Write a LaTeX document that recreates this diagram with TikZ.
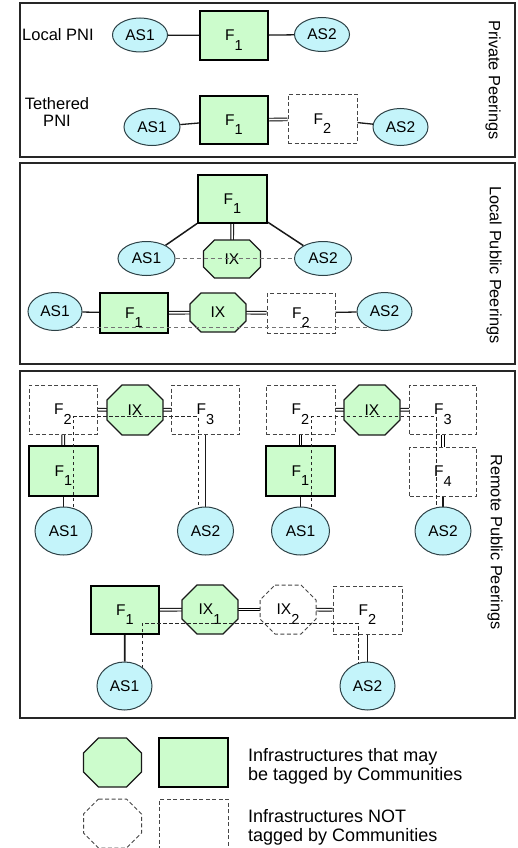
\documentclass[tikz,border=0pt]{standalone}
\usepackage{fontspec}
\setmainfont{Liberation Sans}
\usetikzlibrary{shapes.geometric}
\pgfdeclarelayer{bg}\pgfdeclarelayer{mid}\pgfdeclarelayer{fg}
\pgfsetlayers{bg,mid,main,fg}
\definecolor{boxgreen}{RGB}{204,252,204}
\definecolor{ascyan}{RGB}{196,244,250}
\definecolor{asline}{RGB}{45,65,70}
\definecolor{dashgray}{RGB}{70,70,70}
\newcommand\lowsub[1]{\raisebox{-0.6em}[0pt][0pt]{\fontsize{14.5}{15}\selectfont #1}}
\newcommand\drawocta[3]{%
  \begin{pgfonlayer}{mid}
  \path[#3] ([xshift=#2]#1.north west) -- ([xshift=-#2]#1.north east) -- ([yshift=-#2]#1.north east) -- ([yshift=#2]#1.south east) -- ([xshift=-#2]#1.south east) -- ([xshift=#2]#1.south west) -- ([yshift=#2]#1.south west) -- ([yshift=-#2]#1.north west) -- cycle;
  \end{pgfonlayer}}
\tikzset{
 lbl/.style={font=\fontsize{15.5}{16}\selectfont},
 grbox/.style={rectangle, draw=black, line width=1.3pt, fill=boxgreen, minimum width=68pt, minimum height=48pt, inner sep=0pt, lbl},
 dbox/.style={rectangle, draw=dashgray, line width=1pt, dash pattern=on 4pt off 2.5pt, fill=white, minimum width=68pt, minimum height=48pt, inner sep=0pt, lbl},
 asnode/.style={ellipse, draw=asline, line width=1pt, fill=ascyan, minimum width=56pt, minimum height=36pt, inner sep=0pt, lbl},
 octnode/.style={rectangle, inner sep=0pt, outer sep=0pt, minimum width=56pt, minimum height=50pt, lbl},
 grocta/.style={draw=black!90, line width=1.3pt, fill=boxgreen},
 docta/.style={draw=dashgray, line width=1pt, dash pattern=on 4pt off 2.5pt, fill=white},
 link/.style={draw=black!90, line width=1.3pt},
 thicklink/.style={draw=black!90, line width=1.8pt},
 dlink/.style={draw=black, line width=0.9pt, double=white, double distance=1.8pt},
 gdash/.style={draw=black!55, line width=1pt, dash pattern=on 4pt off 3pt},
 kdash/.style={draw=black!85, line width=0.9pt, dash pattern=on 3.5pt off 2.5pt},
 panel/.style={draw=black!85, line width=1.2pt},
 side/.style={rotate=-90, inner sep=0pt, font=\fontsize{16.3}{17}\selectfont},
 rowlbl/.style={font=\fontsize{16.5}{17.5}\selectfont, align=center, inner sep=0pt},
 legtext/.style={font=\fontsize{18}{19.5}\selectfont, align=left, anchor=west, inner sep=0pt},
}
\begin{document}
\begin{tikzpicture}[x=1pt,y=-1pt]
\useasboundingbox (0,0) rectangle (518,848);
% panels
\draw[panel] (20,3) rectangle (515,157);
\draw[panel] (20,163) rectangle (515,364);
\draw[panel] (20,371) rectangle (515,718);

% ---------- Panel 1
\node[rowlbl, anchor=west] (lpni) at (22,35) {Local PNI};
\node[grbox, minimum height=49pt] (p1f1) at (234,35.5) {F\lowsub{1}};
\node[rowlbl] (tpni) at (57,112) {Tethered\\PNI};
\node[grbox] (p1g1) at (234,120) {F\lowsub{1}};
\node[dbox, minimum width=69pt, minimum height=49pt] (p1g2) at (322.5,119) {F\lowsub{2}};
\node[side] (lab1) at (493,80) {Private Peerings};

% ---------- Panel 2
\node[grbox, line width=2pt, minimum width=69pt] (p2f) at (232.5,199) {F\lowsub{1}};
\node[octnode, minimum width=57pt, minimum height=38pt] (p2ix) at (232,259) {IX};
\drawocta{p2ix}{11pt}{grocta}
\node[grbox, minimum height=40pt] (p2g1) at (134,313) {F\lowsub{1}};
\node[octnode, minimum height=39pt] (p2ix2) at (218,312.5) {IX};
\drawocta{p2ix2}{11pt}{grocta}
\node[dbox, minimum height=40pt] (p2g2) at (301,313) {F\lowsub{2}};
\node[side] (lab2) at (494,265) {Local Public Peerings};

% ---------- Panel 3, left group
\node[dbox, minimum height=49pt] (q2) at (63,409.5) {F\lowsub{2}};
\node[octnode] (qix) at (135,410) {IX};
\drawocta{qix}{15pt}{grocta}
\node[dbox, minimum height=49pt] (q3) at (205.5,409.5) {F\lowsub{3}};
\node[grbox, minimum width=69pt, minimum height=50pt] (q1) at (63.5,471) {F\lowsub{1}};
% right group
\node[dbox, minimum width=69pt, minimum height=49pt] (r2) at (300.5,409.5) {F\lowsub{2}};
\node[octnode] (rix) at (372,410) {IX};
\drawocta{rix}{15pt}{grocta}
\node[dbox, minimum width=67pt, minimum height=49pt] (r3) at (443,409.5) {F\lowsub{3}};
\node[grbox, minimum width=69pt, minimum height=50pt] (r1) at (300.5,471) {F\lowsub{1}};
\node[dbox, minimum width=67pt, minimum height=49pt] (r4) at (443,471.5) {F\lowsub{4}};
% bottom group
\node[grbox] (s1) at (125,610) {F\lowsub{1}};
\node[octnode, minimum height=49pt] (six1) at (210,609.5) {IX\lowsub{1}};
\drawocta{six1}{15pt}{grocta}
\node[octnode, minimum height=49pt] (six2) at (288,609.5) {IX\lowsub{2}};
\drawocta{six2}{15pt}{docta}
\node[dbox, minimum width=69pt] (s2) at (367.5,610) {F\lowsub{2}};
\node[side] (lab3) at (495,542) {Remote Public Peerings};

% ---------- Legend
\node[octnode, minimum width=58pt, minimum height=49pt] (lo1) at (112.5,762.5) {};
\drawocta{lo1}{15pt}{grocta}
\node[grbox, minimum width=69pt, minimum height=49pt] (lb1) at (193.5,762.5) {};
\node[legtext] (lt1) at (248,766.5) {Infrastructures that may\\be tagged by Communities};
\node[octnode, minimum width=58pt, minimum height=49pt] (lo2) at (112.5,823.5) {};
\drawocta{lo2}{15pt}{docta}
\node[dbox, minimum width=69pt, minimum height=49pt] (lb2) at (193.5,823.5) {};
\node[legtext] (lt2) at (248,827.5) {Infrastructures NOT\\tagged by Communities};

% ---------- AS ellipses (front layer)
\begin{pgfonlayer}{fg}
\node[asnode, minimum width=55pt, minimum height=34pt] (p1a1) at (140,35) {AS1};
\node[asnode, minimum width=55pt, minimum height=34pt] (p1a2) at (322,34.5) {AS2};
\node[asnode, minimum height=37pt] (p1b1) at (152,127) {AS1};
\node[asnode, minimum width=55pt, minimum height=37pt] (p1b2) at (400.5,127) {AS2};
\node[asnode, minimum width=57pt, minimum height=34pt] (p2a1) at (146.5,258.5) {AS1};
\node[asnode, minimum width=57pt, minimum height=34pt] (p2a2) at (323,258.5) {AS2};
\node[asnode, minimum width=54pt, minimum height=38pt] (p2b1) at (55,311.5) {AS1};
\node[asnode, minimum width=55pt, minimum height=38pt] (p2b2) at (384.5,311.5) {AS2};
\node[asnode, minimum width=57pt, minimum height=48pt] (qa1) at (63.5,531) {AS1};
\node[asnode, minimum width=56pt, minimum height=48pt] (qa2) at (205.5,531) {AS2};
\node[asnode, minimum width=58pt, minimum height=48pt] (ra1) at (300.5,531) {AS1};
\node[asnode, minimum width=56pt, minimum height=48pt] (ra2) at (443,531) {AS2};
\node[asnode, minimum width=55pt, minimum height=48pt] (sa1) at (124.5,686) {AS1};
\node[asnode, minimum width=55pt, minimum height=48pt] (sa2) at (367.5,686) {AS2};
\end{pgfonlayer}

% ---------- connectors (behind)
\begin{pgfonlayer}{bg}
\draw[link] (p1a1) -- (p1f1);
\draw[link] (p1f1) -- (p1a2);
\draw[link] (p1b1) -- (p1g1);
\draw[dlink] (p1g1) -- (p1g2);
\draw[link] (p1g2) -- (p1b2);
\draw[link, line width=1.5pt] (p2f) -- (p2a1);
\draw[link, line width=1.5pt] (p2f) -- (p2a2);
\draw[dlink] (p2f) -- (p2ix);
\draw[link] (p2b1) -- (p2g1);
\draw[dlink] (p2g1) -- (p2ix2);
\draw[dlink] (p2ix2) -- (p2g2);
\draw[link] (p2g2) -- (p2b2);
\draw[dlink] (q2) -- (qix);
\draw[dlink] (qix) -- (q3);
\draw[dlink] (q2) -- (q1);
\draw[thicklink] (q1) -- (qa1);
\draw[thicklink] (q3) -- (qa2);
\draw[dlink] (r2) -- (rix);
\draw[dlink] (rix) -- (r3);
\draw[dlink] (r2) -- (r1);
\draw[dlink] (r3) -- (r4);
\draw[thicklink] (r1) -- (ra1);
\draw[thicklink] (r4) -- (ra2);
\draw[dlink] (s1) -- (six1);
\draw[dlink] (six1) -- (six2);
\draw[dlink] (six2) -- (s2);
\draw[thicklink] (s1) -- (sa1);
\draw[thicklink] (s2) -- (sa2);
\end{pgfonlayer}

% ---------- dashed peering paths
\draw[gdash] (p2a1) -- (p2a2);
\draw[gdash] ([yshift=-16pt]p2b1.center) -- ([yshift=-16pt]p2b2.center);
\draw[kdash] ([xshift=10pt]qa1.center) |- ([xshift=-7.5pt,yshift=-7pt]q3.center) -- ([xshift=-7.5pt]qa2.center);
\draw[kdash] ([xshift=10.5pt]ra1.center) |- ([xshift=-7pt,yshift=-7pt]r3.center) -- ([xshift=-7pt]ra2.center);
\draw[kdash] ([xshift=17.5pt]sa1.center) |- ([xshift=-9.5pt,yshift=-13pt]s2.center) -- ([xshift=-9.5pt]sa2.center);
\end{tikzpicture}
\end{document}
